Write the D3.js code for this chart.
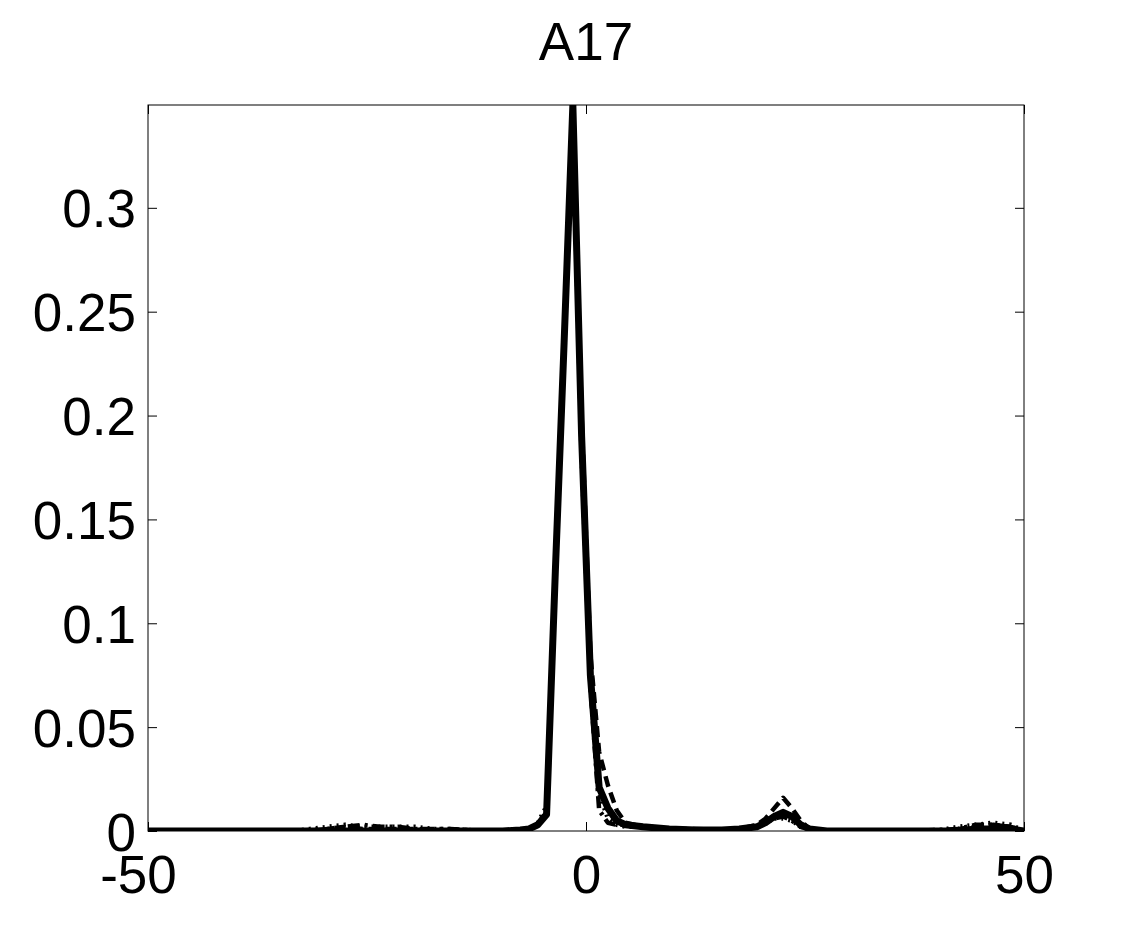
<!DOCTYPE html>
<html>
<head>
<meta charset="utf-8">
<script src="https://cdn.jsdelivr.net/npm/d3@7"></script>
<style>
  html, body { margin: 0; padding: 0; background: #fff; }
  svg text { font-family: "Liberation Sans", Arial, Helvetica, sans-serif; fill: #000; }
</style>
</head>
<body>
<svg id="chart" width="1132" height="936"></svg>
<script>
// ---- data ----
const title = "A17";
const xs = [-50, -33.5, -31.5, -29.5, -27.5, -25.5, -23.5, -21.5, -19.5, -17.5, -15.5, -13.5, -11.5, -9.5, -7.5, -6.5, -5.5, -4.5, -3.5, -2.5, -1.5, -0.5, 0.5, 1.5, 2.5, 3.5, 4.5, 6.5, 9.5, 12.5, 15.5, 17.5, 19.5, 20.5, 21.5, 22.5, 23.5, 24.5, 25.5, 27.5, 30.5, 35.5, 40.5, 42.5, 44.5, 46.5, 48.5, 50];
const solidVals   = [0, 0, 0, 0, 0, 0, 0, 0, 0, 0, 0, 0, 0, 0, 0.0005, 0.001, 0.003, 0.008, 0.125, 0.235, 0.3495, 0.19, 0.075, 0.021, 0.011, 0.005, 0.003, 0.002, 0.001, 0.0005, 0.0005, 0.001, 0.002, 0.004, 0.007, 0.009, 0.007, 0.003, 0.001, 0, 0, 0, 0, 0, 0.001, 0.001, 0.001, 0];
const dashedVals  = [0, 0, 0, 0.001, 0.002, 0.001, 0.001, 0.001, 0.001, 0.0005, 0, 0, 0, 0, 0.0005, 0.001, 0.003, 0.01, 0.13, 0.24, 0.345, 0.2, 0.085, 0.038, 0.022, 0.01, 0.004, 0.002, 0.001, 0.001, 0.0005, 0.001, 0.003, 0.006, 0.011, 0.016, 0.011, 0.005, 0.001, 0, 0, 0, 0, 0.001, 0.002, 0.003, 0.002, 0];
const dottedVals  = [0, 0, 0.001, 0.002, 0.003, 0.002, 0.002, 0.002, 0.002, 0.001, 0.001, 0.0005, 0, 0, 0.0005, 0.001, 0.004, 0.012, 0.12, 0.23, 0.34, 0.18, 0.07, 0.018, 0.006, 0.003, 0.002, 0.002, 0.001, 0.0005, 0.0005, 0.001, 0.002, 0.004, 0.006, 0.006, 0.005, 0.002, 0.001, 0, 0, 0, 0.0005, 0.002, 0.003, 0.004, 0.003, 0];
const dashDotVals = [0, 0, 0.0005, 0.001, 0.002, 0.003, 0.002, 0.002, 0.001, 0.001, 0.001, 0.0005, 0, 0, 0.0005, 0.001, 0.003, 0.009, 0.125, 0.238, 0.348, 0.185, 0.07, 0.01, 0.004, 0.003, 0.003, 0.002, 0.001, 0.0005, 0.0005, 0.001, 0.002, 0.004, 0.006, 0.007, 0.005, 0.002, 0.001, 0, 0, 0, 0.0005, 0.001, 0.003, 0.003, 0.002, 0];
const xTicks = [-50, 0, 50];
const yTicks = [0, 0.05, 0.1, 0.15, 0.2, 0.25, 0.3];

const series = [
  { name: "dotted",  values: dottedVals,  width: 4.5, dash: "2,5" },
  { name: "dashdot", values: dashDotVals, width: 4.5, dash: "12,5,3,5" },
  { name: "dashed",  values: dashedVals,  width: 4.5, dash: "11,6" },
  { name: "solid",   values: solidVals,   width: 7,   dash: null }
];

// ---- layout ----
const W = 1132, H = 936;
const m = { left: 148, right: W - 1024, top: 105, bottom: H - 831 };
const iw = W - m.left - m.right, ih = H - m.top - m.bottom;

const svg = d3.select("#chart");
const g = svg.append("g").attr("transform", `translate(${m.left},${m.top})`);

const x = d3.scaleLinear().domain([-50, 50]).range([0, iw]);
const yMax = d3.max(series, s => d3.max(s.values));
const y = d3.scaleLinear().domain([0, yMax]).range([ih, 0]);

svg.append("defs").append("clipPath").attr("id", "clip")
  .append("rect").attr("x", 0).attr("y", 0).attr("width", iw).attr("height", ih);

// box
g.append("rect").attr("x", 0).attr("y", 0).attr("width", iw).attr("height", ih)
  .attr("fill", "none").attr("stroke", "#000").attr("stroke-width", 1);

const fontSize = 53;
const tickLen = 9;

// axes
const xAxisB = d3.axisBottom(x).tickValues(xTicks).tickSize(-tickLen).tickPadding(18).tickFormat(d => String(d));
const xAxisT = d3.axisTop(x).tickValues(xTicks).tickSize(-tickLen).tickFormat("");
const yAxisL = d3.axisLeft(y).tickValues(yTicks).tickSize(-tickLen).tickPadding(12).tickFormat(d => d === 0 ? "0" : String(+d.toFixed(2)));
const yAxisR = d3.axisRight(y).tickValues(yTicks).tickSize(-tickLen).tickFormat("");

function styleAxis(sel) {
  sel.select(".domain").remove();
  sel.selectAll(".tick line").attr("stroke", "#000").attr("stroke-width", 1);
  sel.selectAll(".tick text").attr("font-size", fontSize).attr("fill", "#000");
}

const gxb = g.append("g").attr("transform", `translate(0,${ih})`).call(xAxisB).call(styleAxis);
gxb.selectAll(".tick text").attr("dy", null).attr("y", 62).attr("dx", d => d < 0 ? -10 : 0);
g.append("g").call(xAxisT).call(styleAxis);
const gyl = g.append("g").call(yAxisL).call(styleAxis);
gyl.selectAll(".tick text").attr("dy", null).attr("y", 19).attr("x", -12);
g.append("g").attr("transform", `translate(${iw},0)`).call(yAxisR).call(styleAxis);

// lines
const line = d3.line().x((d, i) => x(xs[i])).y(d => y(d));
const lg = g.append("g").attr("clip-path", "url(#clip)");
series.forEach(s => {
  lg.append("path")
    .datum(s.values)
    .attr("d", line)
    .attr("fill", "none")
    .attr("stroke", "#000")
    .attr("stroke-width", s.width)
    .attr("stroke-linejoin", "round")
    .attr("stroke-dasharray", s.dash);
});

// title
svg.append("text")
  .attr("x", m.left + iw / 2)
  .attr("y", 60)
  .attr("text-anchor", "middle")
  .attr("font-size", fontSize)
  .text(title);
</script>
</body>
</html>
